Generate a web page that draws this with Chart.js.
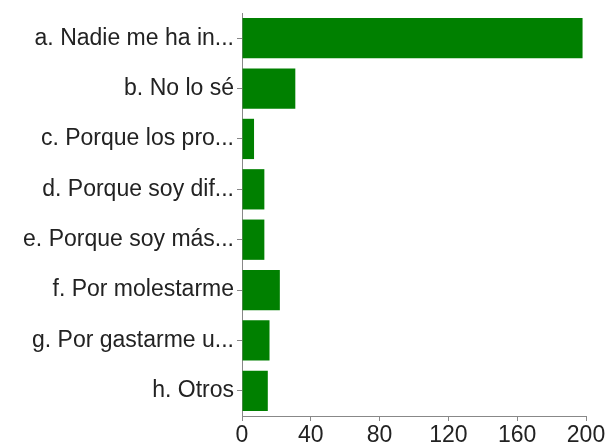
<!DOCTYPE html>
<html>
<head>
<meta charset="utf-8">
<script src="https://cdn.jsdelivr.net/npm/chart.js@4/dist/chart.umd.min.js"></script>
<style>
html,body{margin:0;padding:0;background:#fff;}
#wrap{width:608px;height:448px;position:relative;}
</style>
</head>
<body>
<div id="wrap"><canvas id="c" width="608" height="448"></canvas></div>
<script>
const categories = [
  "a. Nadie me ha in...",
  "b. No lo sé",
  "c. Porque los pro...",
  "d. Porque soy dif...",
  "e. Porque soy más...",
  "f. Por molestarme",
  "g. Por gastarme u...",
  "h. Otros"
];
const counts = [198, 31, 7, 13, 13, 22, 16, 15];
const xTicks = [0, 40, 80, 120, 160, 200];

const axisColor = '#888888';
const font = {family: '"Liberation Sans", Arial, sans-serif', size: 23};

new Chart(document.getElementById('c'), {
  type: 'bar',
  data: {
    labels: categories,
    datasets: [{
      data: counts,
      backgroundColor: '#008000',
      borderWidth: 0,
      barPercentage: 0.8,
      categoryPercentage: 1.0
    }]
  },
  options: {
    indexAxis: 'y',
    responsive: false,
    animation: false,
    layout: {padding: {left: 0, right: 22, top: 13, bottom: 0}},
    plugins: {legend: {display: false}, tooltip: {enabled: false}},
    scales: {
      x: {
        min: xTicks[0],
        max: xTicks[xTicks.length - 1],
        afterBuildTicks: (s) => { s.ticks = xTicks.map(v => ({value: v})); },
        grid: {drawOnChartArea: false, drawTicks: true, tickLength: 5, color: axisColor},
        border: {color: axisColor, width: 1},
        ticks: {color: '#222', font: font, padding: 1, maxRotation: 0},
        afterFit: (s) => { s.height = 32; }
      },
      y: {
        grid: {offset: false, drawOnChartArea: false, drawTicks: true, tickLength: 5, color: axisColor},
        border: {color: axisColor, width: 1},
        ticks: {color: '#222', font: font, padding: 3, autoSkip: false},
        afterFit: (s) => { s.width = 242; s.paddingTop = 0; s.paddingBottom = 0; }
      }
    }
  }
});
</script>
</body>
</html>
